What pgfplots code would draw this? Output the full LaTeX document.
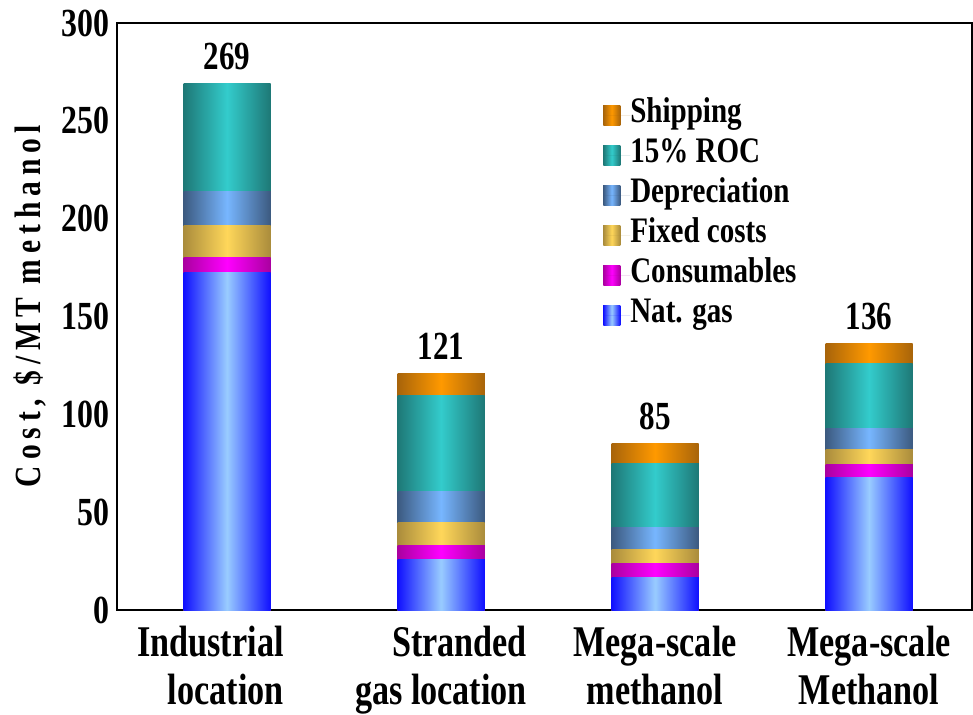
\documentclass[border=0pt]{standalone}
\usepackage{fontspec}
\setmainfont{Liberation Serif}[FakeStretch=0.8]
\newfontfamily\catfont{Liberation Serif}[FakeStretch=0.78]
\newfontfamily\legfont{Liberation Serif}[FakeStretch=0.81]
\usepackage{pgfplots}
\pgfplotsset{compat=1.18}
\definecolor{gasE}{RGB}{16,16,255}
\definecolor{gasM}{RGB}{153,204,255}
\definecolor{consE}{RGB}{170,0,160}
\definecolor{consM}{RGB}{255,0,255}
\definecolor{fixE}{RGB}{170,140,60}
\definecolor{fixM}{RGB}{255,215,90}
\definecolor{depE}{RGB}{60,90,128}
\definecolor{depM}{RGB}{119,182,255}
\definecolor{rocE}{RGB}{30,120,118}
\definecolor{rocM}{RGB}{51,204,204}
\definecolor{shipE}{RGB}{168,100,10}
\definecolor{shipM}{RGB}{255,153,0}
\newcommand{\tickf}{\fontsize{40}{45}\selectfont\bfseries}
\newcommand{\catf}{\catfont\fontsize{44}{48}\selectfont\bfseries}
\newcommand{\valf}{\catfont\fontsize{40}{45}\selectfont\bfseries}
\newcommand{\legf}{\legfont\fontsize{36}{40}\selectfont\bfseries}
\pgfplotsset{
  gas/.style={draw=none, fill=gasE, left color=gasE, right color=gasE, middle color=gasM},
  cons/.style={draw=none, fill=consE, left color=consE, right color=consE, middle color=consM},
  fix/.style={draw=none, fill=fixE, left color=fixE, right color=fixE, middle color=fixM},
  dep/.style={draw=none, fill=depE, left color=depE, right color=depE, middle color=depM},
  roc/.style={draw=none, fill=rocE, left color=rocE, right color=rocE, middle color=rocM},
  ship/.style={draw=none, fill=shipE, left color=shipE, right color=shipE, middle color=shipM},
  total/.style={nodes near coords, point meta=explicit symbolic,
    every node near coord/.append style={anchor=south, inner sep=0pt, yshift=14bp, font=\valf, text=black}},
}
\begin{document}
\begin{tikzpicture}
\begin{axis}[
  scale only axis, width=855bp, height=587bp,
  ybar, bar width=87bp, bar shift=0pt,
  xmin=-0.514, xmax=3.481, ymin=0, ymax=300,
  xtick={0,1,2,3},
  xticklabels={
    \begin{tabular}{@{}r@{}}Industrial\hspace*{33bp}\\location\hspace*{33bp}\end{tabular},
    \begin{tabular}{@{}r@{}}Stranded\\gas location\end{tabular},
    \begin{tabular}{@{}c@{}}Mega-scale\\methanol\end{tabular},
    \begin{tabular}{@{}c@{}}Mega-scale\\Methanol\end{tabular}},
  xticklabel style={font=\catf, inner sep=0pt, yshift=-13bp},
  ytick={0,50,...,300},
  yticklabel style={font=\tickf, inner sep=0pt, xshift=-7bp},
  /pgf/number format/assume math mode=true,
  major tick length=0pt,
  axis line style={line width=1.2bp},
  ylabel={\addfontfeature{LetterSpace=16}Cost, \$/MT methanol},
  every axis y label/.style={at={(axis description cs:-0.1018,0.518)}, rotate=90, anchor=center, font=\fontsize{37}{40}\selectfont\bfseries},
  legend image code/.code={\path[#1, draw=none] (0bp,-10bp) rectangle (17bp,10bp); \path (0bp,0bp) -- (27bp,0bp);},
  legend cell align=left,
  legend style={draw=none, fill=none, at={(0.5685,0.877)}, anchor=north west, font=\legf,
    inner sep=0pt, row sep=0bp,
    nodes={inner sep=0pt, text height=27bp, text depth=13bp}},
]
% x=1 Stranded gas location carries the legend; values are cumulative segment tops
\addplot[ship, total] coordinates {(1,121) [121]};
\addlegendentry{Shipping}
\addplot[roc] coordinates {(1,109.5)};
\addlegendentry{15\% ROC}
\addplot[dep] coordinates {(1,60.5)};
\addlegendentry{Depreciation}
\addplot[fix] coordinates {(1,44.7)};
\addlegendentry{Fixed costs}
\addplot[cons] coordinates {(1,33.0)};
\addlegendentry{Consumables}
\addplot[gas] coordinates {(1,25.9)};
\addlegendentry{Nat. gas}
% x=0 Industrial location
\addplot[roc, total, forget plot] coordinates {(0,269) [269]};
\addplot[dep, forget plot] coordinates {(0,214.1)};
\addplot[fix, forget plot] coordinates {(0,196.3)};
\addplot[cons, forget plot] coordinates {(0,180.0)};
\addplot[gas, forget plot] coordinates {(0,172.4)};
% x=2 Mega-scale methanol
\addplot[ship, total, forget plot] coordinates {(2,85) [85]};
\addplot[roc, forget plot] coordinates {(2,75.0)};
\addplot[dep, forget plot] coordinates {(2,42.4)};
\addplot[fix, forget plot] coordinates {(2,31.0)};
\addplot[cons, forget plot] coordinates {(2,23.9)};
\addplot[gas, forget plot] coordinates {(2,16.8)};
% x=3 Mega-scale Methanol
\addplot[ship, total, forget plot] coordinates {(3,136) [136]};
\addplot[roc, forget plot] coordinates {(3,125.9)};
\addplot[dep, forget plot] coordinates {(3,93.0)};
\addplot[fix, forget plot] coordinates {(3,82.2)};
\addplot[cons, forget plot] coordinates {(3,74.6)};
\addplot[gas, forget plot] coordinates {(3,67.5)};
\end{axis}
\pgfresetboundingbox
\path[use as bounding box] ([xshift=-117bp,yshift=-105bp]current axis.south west) rectangle ([xshift=1bp,yshift=23bp]current axis.north east);
\end{tikzpicture}
\end{document}
